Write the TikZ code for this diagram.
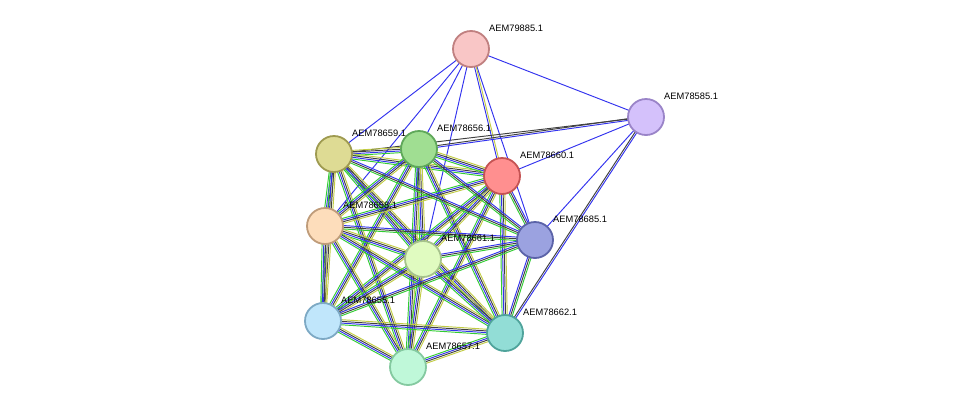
\documentclass[tikz,border=0pt]{standalone}
\usepackage{fontspec}
\setmainfont{Liberation Sans}
\usetikzlibrary{calc}
\definecolor{eg}{HTML}{33CC33}
\definecolor{eb}{HTML}{3333EE}
\definecolor{ey}{HTML}{C2CC44}
\definecolor{ek}{HTML}{404040}
\tikzset{x=1pt,y=-1pt,
  prot/.style={circle,minimum size=36pt,inner sep=0pt,line width=1.8pt},
  lab/.style={anchor=west,font=\fontsize{9.3}{11}\selectfont,inner sep=0pt},
  ln/.style={line width=0.95pt}}
\newcommand{\edgeset}[3]{% a, b, colours
  \def\lst{#3}\foreach \c [count=\i] in \lst {\xdef\nn{\i}}%
  \foreach \c [count=\i] in \lst {%
    \pgfmathsetmacro{\off}{(\i-(\nn+1)/2)*1.7}%
    \draw[ln,\c] ($(#1)!\off pt!90:(#2)$) -- ($(#2)!\off pt!-90:(#1)$);}}
\begin{document}
\begin{tikzpicture}
\useasboundingbox (0,0) rectangle (975,413);
\coordinate (p79885) at (471,49);
\coordinate (p585) at (646,117);
\coordinate (p659) at (334,154);
\coordinate (p656) at (419,149);
\coordinate (p660) at (502,176);
\coordinate (p658) at (325,226);
\coordinate (p661) at (423,259);
\coordinate (p685) at (535,240);
\coordinate (p655) at (323,321);
\coordinate (p662) at (505,333);
\coordinate (p657) at (408,367);
% edges
\foreach \a in {659,656,658,661,685}{\edgeset{p79885}{p\a}{eb}}
\edgeset{p79885}{p660}{eb,ey}
\edgeset{p79885}{p585}{eb}
\edgeset{p585}{p656}{ek,eb}
\edgeset{p585}{p659}{ek}
\edgeset{p585}{p660}{eb}
\edgeset{p585}{p685}{eb}
\edgeset{p585}{p662}{ek,eb}
\foreach \a/\b in {659/656,659/660,659/658,659/661,659/655,659/662,659/657,
  656/660,656/658,656/661,656/655,656/662,656/657,
  660/658,660/661,660/655,660/662,660/657,
  658/661,658/655,658/662,658/657,
  661/655,661/662,661/657,
  655/662,655/657,662/657}{\edgeset{p\a}{p\b}{eg,eb,ek,ey}}
\foreach \a in {659,656,660,658,661,655,662}{\edgeset{p685}{p\a}{eb,ek,eg}}
% nodes
\foreach \n/\f/\d/\t in {79885/F9C6C6/C08080/AEM79885.1,585/D4C1FB/9A84C8/AEM78585.1,
  659/DEDB94/9E9A50/AEM78659.1,656/A0DE92/5FA85A/AEM78656.1,660/FF8F8F/C55353/AEM78660.1,
  658/FDDDBB/BF9C7A/AEM78658.1,661/E0FBC0/A6C28C/AEM78661.1,685/9BA2E0/5B63A8/AEM78685.1,
  655/C0E6FB/7DA9C4/AEM78655.1,662/92DDD6/4FA39B/AEM78662.1,657/BFF8D9/84C9A0/AEM78657.1}{
  \definecolor{fc}{HTML}{\f}\definecolor{dc}{HTML}{\d}
  \node[prot,fill=fc,draw=dc] (n\n) at (p\n) {};
  \node[lab] (l\n) at ($(p\n)+(18,-21)$) {\t};
}
\end{tikzpicture}
\end{document}
